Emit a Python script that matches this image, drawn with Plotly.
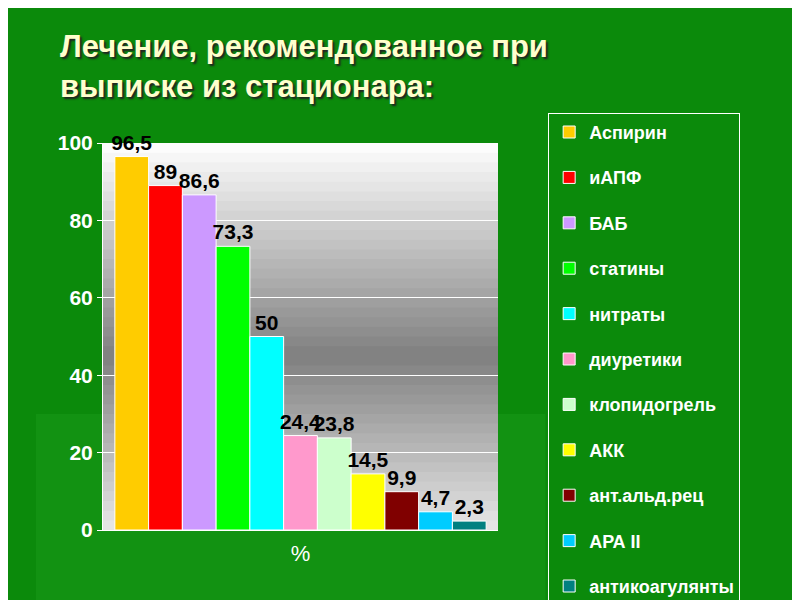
import plotly.graph_objects as go

# data
names = ['Аспирин', 'иАПФ', 'БАБ', 'статины', 'нитраты', 'диуретики',
         'клопидогрель', 'АКК', 'ант.альд.рец', 'АРА II', 'антикоагулянты']
values = [96.5, 89, 86.6, 73.3, 50, 24.4, 23.8, 14.5, 9.9, 4.7, 2.3]
colors = ['#FFCC00', '#FF0000', '#CC99FF', '#00FF00', '#00FFFF', '#FF99CC',
          '#CCFFCC', '#FFFF00', '#800000', '#00CCFF', '#008080']

fig = go.Figure()
for i, (n, v, c) in enumerate(zip(names, values, colors)):
    fig.add_trace(go.Bar(
        x=['%'], y=[v], name=n, legendgroup=n,
        marker=dict(color=c, line=dict(color='white', width=1)),
        text=[str(v).replace('.', ',')], textposition='outside',
        constraintext='none',
        textfont=dict(family='Arial', size=21, color='black', weight='bold'),
        cliponaxis=False,
    ))

# grey gradient wall behind bars
shapes = []
# slight lighter green band on the slide background
shapes.append(dict(type='rect', xref='paper', yref='paper', layer='below',
                   x0=-0.17, x1=1.12, y0=-0.2, y1=0.3,
                   fillcolor='rgba(40,170,40,0.25)', line=dict(width=0)))
nb = 40
for k in range(nb):
    t = (k + 0.5) / nb
    g = int(128 + 127 * abs(t - 0.45) / 0.55)
    g = min(g, 255)
    shapes.append(dict(type='rect', xref='paper', yref='paper', layer='below',
                       x0=0, x1=1, y0=k / nb, y1=min(1, (k + 1.6) / nb),
                       fillcolor=f'rgb({g},{g},{g})',
                       line=dict(width=0, color=f'rgb({g},{g},{g})')))

fig.update_layout(
    width=800, height=600,
    paper_bgcolor='#0b8a0b', plot_bgcolor='rgba(0,0,0,0)',
    margin=dict(l=95, r=310, t=135, b=78),
    barmode='group', bargap=0.06, bargroupgap=0,
    shapes=shapes,
    font=dict(family='Arial', color='white'),
    xaxis=dict(showticklabels=False, showgrid=False, zeroline=False,
               title=dict(text='%', font=dict(size=22, color='white'), standoff=15),
               showline=True, linecolor='white'),
    yaxis=dict(range=[0, 100], dtick=20, showgrid=True, gridcolor='white',
               zeroline=False, showline=True, linecolor='white',
               ticks='outside', ticklen=5, tickcolor='white',
               tickfont=dict(size=21, color='white', weight='bold')),
    legend=dict(x=1.127, y=1.078, xanchor='left', yanchor='top',
                bgcolor='rgba(0,0,0,0)', bordercolor='white', borderwidth=1,
                font=dict(size=18, color='white', weight='bold'),
                tracegroupgap=19, itemwidth=30, maxheight=520),
    showlegend=True,
)

fig.add_annotation(
    xref='paper', yref='paper', x=-0.115, y=1.3, xanchor='left', yanchor='top',
    align='left', showarrow=False,
    text='Лечение, рекомендованное при<br>выписке из стационара:',
    font=dict(family='Arial', size=31, color='#FFFFCC', weight='bold',
              shadow='2px 2px 2px #222'),
)

fig.write_html('out.html')
